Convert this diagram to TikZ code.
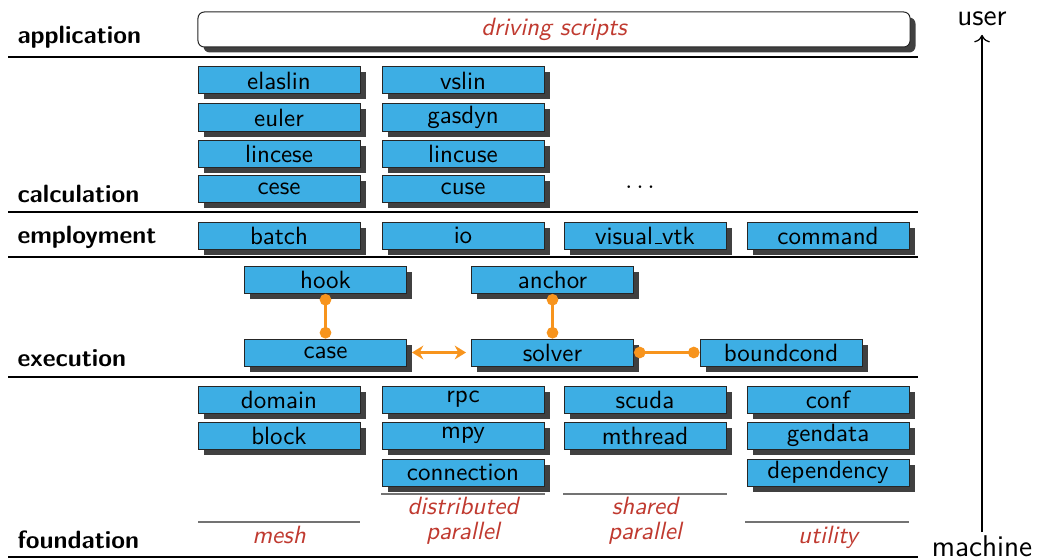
\documentclass[tikz,border=0pt]{standalone}
\usepackage{tikz}
\usetikzlibrary{arrows.meta,shadows}
\renewcommand{\familydefault}{\sfdefault}
\definecolor{modblue}{RGB}{61,174,228}
\definecolor{catred}{RGB}{192,58,48}
\definecolor{linkorange}{RGB}{247,148,29}

\begin{document}
\begin{tikzpicture}[x=0.4pt, y=-0.4pt,
  mod/.style={draw=black!85, fill=modblue, line width=0.4pt, inner sep=0pt,
    minimum width=64.8pt, minimum height=10.8pt,
    drop shadow={shadow xshift=2.2pt, shadow yshift=-2.2pt, fill=black!75, opacity=1}},
  layer/.style={anchor=base west, inner sep=0pt, font=\bfseries},
  cat/.style={anchor=base, inner sep=0pt, align=center, font=\itshape, text=catred},
  catline/.style={draw=black!55, line width=0.5pt},
  sep/.style={line width=0.8pt},
  link/.style={draw=linkorange, line width=1.2pt, {Circle[length=4.6pt]}-{Circle[length=4.6pt]}},
  >={Stealth[length=4.5pt, width=5.5pt]}]
  \useasboundingbox (0,0) rectangle (1037,559);

  % layers
  \node[layer] (lapp)  at (17,44)  {application};
  \node[layer] (lcalc) at (17,202) {calculation};
  \node[layer] (lemp)  at (17,243) {employment};
  \node[layer] (lexec) at (17,366) {execution};
  \node[layer] (lfnd)  at (17,548) {foundation};
  \foreach \y in {57,212,257,377,557}
    \draw[sep] (8,\y) -- (918,\y);

  % application
  \node[mod, fill=white, rounded corners=2.5pt, minimum width=284.8pt, minimum height=14pt,
    text=catred, font=\itshape] (scripts) at (554,29.5) {driving scripts};

  % calculation
  \node[mod] (elaslin) at (279,80.5)  {elaslin};
  \node[mod] (euler)   at (279,117.5) {euler};
  \node[mod] (lincese) at (279,153.5) {lincese};
  \node[mod] (cese)    at (279,188.5) {cese};
  \node[mod] (vslin)   at (463,80.5)  {vslin};
  \node[mod] (gasdyn)  at (463,117.5) {gasdyn};
  \node[mod] (lincuse) at (463,153.5) {lincuse};
  \node[mod] (cuse)    at (463,188.5) {cuse};
  \node (more) at (640,187) {$\ldots$};

  % employment
  \node[mod] (batch)   at (279,235.5) {batch};
  \node[mod] (io)      at (463,235.5) {io};
  \node[mod] (vtk)     at (645,235.5) {visual\kern.06em\vbox{\hrule width.3em}vtk};
  \node[mod] (command) at (828,235.5) {command};

  % execution
  \node[mod] (hook)      at (325.5,280)   {hook};
  \node[mod] (anchor)    at (552.5,280)   {anchor};
  \node[mod] (case)      at (325.5,352.5) {case};
  \node[mod] (solver)    at (552.5,352.5) {solver};
  \node[mod] (boundcond) at (781,352.5)   {boundcond};
  \draw[link] (hook) -- (case);
  \draw[link] (anchor) -- (solver);
  \draw[link] (solver) -- (boundcond);
  \draw[<->, draw=linkorange, line width=1.2pt, shorten <=2pt, shorten >=2pt] (case) -- (solver);

  % foundation
  \node[mod] (domain)     at (279,399.5) {domain};
  \node[mod] (block)      at (279,435.5) {block};
  \node[mod] (rpc)        at (463,399.5) {rpc};
  \node[mod] (mpy)        at (463,435.5) {mpy};
  \node[mod] (connection) at (463,472.5) {connection};
  \node[mod] (scuda)      at (645,399.5) {scuda};
  \node[mod] (mthread)    at (645,435.5) {mthread};
  \node[mod] (conf)       at (828,399.5) {conf};
  \node[mod] (gendata)    at (828,435.5) {gendata};
  \node[mod] (dependency) at (828,472.5) {dependency};

  \draw[catline] (198,522) -- (360,522);
  \draw[catline] (381,494) -- (545,494);
  \draw[catline] (563,494) -- (727,494);
  \draw[catline] (745,522) -- (909,522);
  \node[cat] (mesh)    at (279,543) {mesh};
  \node[cat, anchor=north] (dist)   at (463,497) {distributed\\[-2pt]parallel};
  \node[cat, anchor=north] (shared) at (645,497) {shared\\[-2pt]parallel};
  \node[cat] (utility) at (828,543) {utility};

  % direction
  \node[font=\large] (user) at (982,19) {user};
  \node[font=\large, anchor=base, inner sep=1pt] (machine) at (982,556) {machine};
  \draw[-{To[length=3pt]}, line width=0.5pt] (machine) -- (user);
\end{tikzpicture}
\end{document}
